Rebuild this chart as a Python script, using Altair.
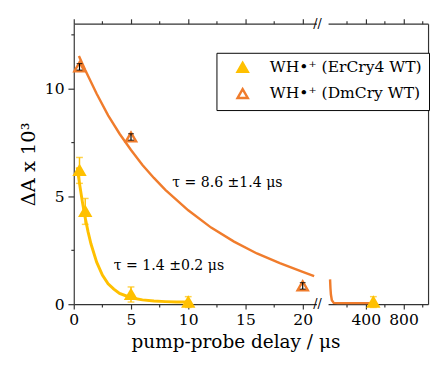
import altair as alt
import pandas as pd

S_ER = "WH•⁺ (ErCry4 WT)"
S_DM = "WH•⁺ (DmCry WT)"

# ---- data ----
# fitted curve DmCry (left segment, 0-21 us)
dm_fit_t = [0.45, 1, 2, 3, 4, 5, 6, 7, 8, 10, 12, 14, 16, 18, 20, 21]
dm_fit_y = [11.5, 10.85, 9.75, 8.75, 7.9, 7.15, 6.45, 5.85, 5.3, 4.35, 3.55, 2.9, 2.35, 1.9, 1.5, 1.3]
# fitted curve DmCry (right segment, after break)
dm_fit2_t = [21, 25, 30, 40, 60, 100, 460]
dm_fit2_y = [1.15, 0.75, 0.45, 0.18, 0.06, 0.05, 0.05]
# fitted curve ErCry4
er_fit_t = [0.3, 0.5, 0.75, 1, 1.25, 1.5, 2, 2.5, 3, 3.5, 4, 5, 6, 7, 8, 9, 10]
er_fit_y = [6.35, 5.6, 4.75, 4.0, 3.35, 2.8, 1.95, 1.35, 0.95, 0.7, 0.5, 0.3, 0.2, 0.15, 0.12, 0.1, 0.1]

# measured points
er_t = [0.5, 1, 5, 10, 480]
er_y = [6.2, 4.3, 0.45, 0.1, 0.1]
er_err = [0.6, 0.6, 0.35, 0.25, 0.25]
dm_t = [0.5, 5, 20]
dm_y = [11.0, 7.75, 0.85]
dm_err = [0.15, 0.15, 0.15]

ann_t = [8.6, 3.5]
ann_y = [5.6, 1.75]
ann_text = ["τ = 8.6 ±1.4 μs", "τ = 1.4 ±0.2 μs"]

x_left_ticks = [0, 2.5, 5, 7.5, 10, 12.5, 15, 17.5, 20]
x_right_ticks = [200, 400, 600, 800, 1000]
y_ticks = [0, 2.5, 5, 7.5, 10, 12.5]

# ---- styling ----
ORANGE = "#F07C2C"
YELLOW = "#FFC000"
FONT = "DejaVu Serif"
AXC = "#333333"

XL = alt.Scale(domain=[0, 21.2], nice=False, zero=False)
XR = alt.Scale(domain=[0, 1060], nice=False, zero=False)
YS = alt.Scale(domain=[0, 13], nice=False, zero=False)

fill_scale = alt.Scale(domain=[S_ER, S_DM], range=[YELLOW, "white"])
stroke_scale = alt.Scale(domain=[S_ER, S_DM], range=[YELLOW, ORANGE])


def cond(test, a, b):
    return {"condition": {"test": test, "value": a}, "value": b}


def xaxis(orient, values, test, labels=True):
    return alt.Axis(orient=orient, values=values, labels=labels,
                    labelExpr=f"{test} ? datum.label : ''",
                    tickSize=cond(test, 5, 3), grid=False, domain=True,
                    domainColor=AXC, tickColor=AXC, domainWidth=1.2, tickWidth=1.2,
                    labelFont=FONT, labelFontSize=16, labelColor="black",
                    labelPadding=3, labelOverlap=False, labelFlush=False, title=None)


def yaxis(orient, labels=True, title=None, ticks=True):
    t = "datum.value % 5 === 0"
    return alt.Axis(orient=orient, values=y_ticks, labels=labels, ticks=ticks,
                    labelExpr=f"{t} ? datum.label : ''",
                    tickSize=cond(t, 6, 3), grid=False, domain=True,
                    domainColor=AXC, tickColor=AXC, domainWidth=1.2, tickWidth=1.2,
                    labelFont=FONT, labelFontSize=16, labelColor="black",
                    labelPadding=4, labelOverlap=False, labelFlush=False,
                    title=title, titleFont=FONT, titleFontSize=20,
                    titleFontWeight="normal", titleColor="black", titlePadding=6)


dm_fit = pd.DataFrame({"t": dm_fit_t, "y": dm_fit_y})
dm_fit2 = pd.DataFrame({"t": dm_fit2_t, "y": dm_fit2_y})
er_fit = pd.DataFrame({"t": er_fit_t, "y": er_fit_y})
pts = pd.DataFrame({
    "series": [S_ER] * len(er_t) + [S_DM] * len(dm_t),
    "t": er_t + dm_t,
    "y": er_y + dm_y,
    "err": er_err + dm_err,
})
pts["lo"] = pts["y"] - pts["err"]
pts["hi"] = pts["y"] + pts["err"]
ann = pd.DataFrame({"t": ann_t, "y": ann_y, "text": ann_text})
brk = pd.DataFrame({"t": [21.2, 21.2], "y": [0, 13]})

legend = alt.Legend(orient="none", legendX=147, legendY=30, title=None,
                    symbolType="triangle-up", symbolSize=110, symbolStrokeWidth=2.5,
                    labelFont=FONT, labelFontSize=16, labelColor="black", labelLimit=0,
                    strokeColor="black", fillColor="white", padding=7,
                    symbolOffset=12, labelOffset=20, rowPadding=7)


def panel(xscale, xvals, xtest, tmin, tmax, left):
    er_pts = pts[(pts.series == S_ER) & (pts.t >= tmin) & (pts.t <= tmax)]
    dm_pts = pts[(pts.series == S_DM) & (pts.t >= tmin) & (pts.t <= tmax)]
    sel = pts[(pts.t >= tmin) & (pts.t <= tmax)]

    xn = lambda: alt.X("t:Q", scale=xscale, axis=None)
    yn = lambda: alt.Y("y:Q", scale=YS, axis=None)

    layers = []
    if left:
        main_y = alt.Y("y:Q", scale=YS, axis=yaxis("left", title="ΔA x 10³"))
        fit = dm_fit
    else:
        main_y = alt.Y("y:Q", scale=YS, axis=yaxis("right", labels=False, ticks=False))
        fit = dm_fit2
    bottom = xaxis("bottom", xvals, xtest)
    # axes carrier: bottom + main y axis
    layers.append(alt.Chart(fit).mark_point(opacity=0).encode(
        x=alt.X("t:Q", scale=xscale, axis=bottom), y=main_y))
    # axes carrier: top axis
    layers.append(alt.Chart(fit).mark_point(opacity=0).encode(
        x=alt.X("t:Q", scale=xscale, axis=xaxis("top", xvals, xtest, labels=False)),
        y=yn()))
    layers.append(alt.Chart(fit).mark_line(color=ORANGE, strokeWidth=2.5).encode(
        x=xn(), y=yn()))
    if left:
        layers.append(alt.Chart(er_fit).mark_line(color=YELLOW, strokeWidth=3).encode(
            x=xn(), y=yn()))

    # ErCry4 error bars (yellow)
    if len(er_pts):
        layers.append(alt.Chart(er_pts).mark_rule(color=YELLOW, strokeWidth=1.5).encode(
            x=xn(), y=alt.Y("lo:Q", scale=YS, axis=None), y2="hi:Q"))
        for c in ["lo", "hi"]:
            layers.append(alt.Chart(er_pts).mark_tick(color=YELLOW, orient="horizontal",
                                                      size=7, thickness=1.5).encode(
                x=xn(), y=alt.Y(f"{c}:Q", scale=YS, axis=None)))
    # points
    layers.append(alt.Chart(sel).mark_point(shape="triangle-up", size=110, strokeWidth=2.5,
                                            opacity=1).encode(
        x=xn(), y=yn(),
        fill=alt.Fill("series:N", scale=fill_scale, legend=legend if left else None),
        stroke=alt.Stroke("series:N", scale=stroke_scale, legend=legend if left else None)))
    # DmCry error bars (black)
    if len(dm_pts):
        layers.append(alt.Chart(dm_pts).mark_rule(color="black", strokeWidth=1.2).encode(
            x=xn(), y=alt.Y("lo:Q", scale=YS, axis=None), y2="hi:Q"))
        for c in ["lo", "hi"]:
            layers.append(alt.Chart(dm_pts).mark_tick(color="black", orient="horizontal",
                                                      size=6, thickness=1.2).encode(
                x=xn(), y=alt.Y(f"{c}:Q", scale=YS, axis=None)))
    if left:
        layers.append(alt.Chart(ann).mark_text(align="left", baseline="middle", font=FONT,
                                               fontSize=14.5, color="black").encode(
            x=xn(), y=yn(), text="text:N"))
        layers.append(alt.Chart(brk).mark_text(align="center", baseline="middle", font=FONT,
                                               fontSize=13, color="black", dx=1, text="//").encode(
            x=xn(), y=yn()))
    w = 250 if left else 103
    return alt.layer(*layers).resolve_axis(x="independent", y="independent").properties(
        width=w, height=289)


left = panel(XL, x_left_ticks, "datum.value % 5 === 0", 0, 21.2, True)
right = panel(XR, x_right_ticks, "datum.value % 400 === 0", 21.2, 2000, False)

chart = alt.hconcat(left, right, spacing=3).properties(
    padding={"left": 19, "top": 13, "right": 0, "bottom": 0},
    title=alt.TitleParams("pump-probe delay / μs", orient="bottom", anchor="middle",
                          font=FONT, fontSize=19, fontWeight="normal", color="black",
                          dx=12, offset=6),
).configure_view(stroke=None)

chart.save("out.html", embed_options={"renderer": "svg", "actions": False})
